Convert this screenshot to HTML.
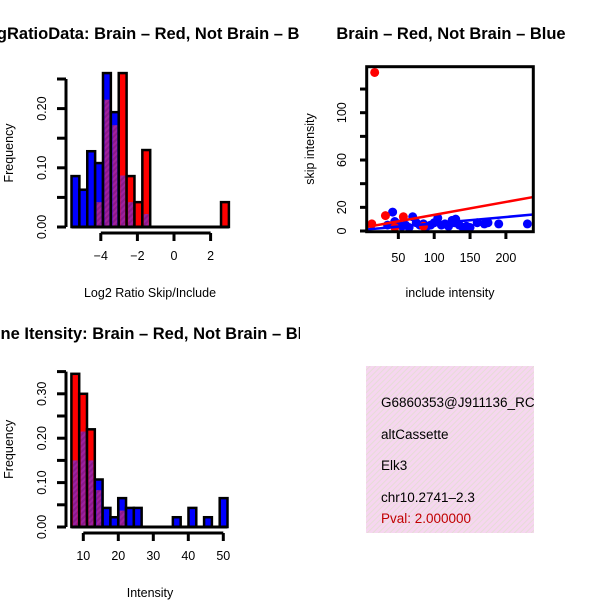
<!DOCTYPE html>
<html><head><meta charset="utf-8"><style>
body{margin:0;background:#fff;width:600px;height:600px;overflow:hidden}
svg{font-family:"Liberation Sans",sans-serif}
</style></head><body>
<svg id="c" width="600" height="600" xmlns="http://www.w3.org/2000/svg">
<defs>
<pattern id="pur" width="4" height="4" patternUnits="userSpaceOnUse" patternTransform="rotate(45)">
<rect width="4" height="4" fill="#a020a0"/><rect width="2" height="4" fill="#8a1a8a"/></pattern>
<pattern id="pink" width="4" height="4" patternUnits="userSpaceOnUse" patternTransform="rotate(45)">
<rect width="4" height="4" fill="#f6d6f0"/><rect width="1" height="4" fill="#e6dcd6"/></pattern>
<clipPath id="clipL"><rect x="0" y="0" width="300" height="600"/></clipPath>
<clipPath id="clipBox"><rect x="366" y="366" width="168" height="167"/></clipPath>
</defs>
<g id="p1" clip-path="url(#clipL)"></g>
<g id="p2"></g>
<g id="p3" clip-path="url(#clipL)"></g>
<g clip-path="url(#clipBox)">
<rect x="366" y="366" width="168" height="167" fill="url(#pink)"/>
<text x="381" y="407" font-size="13.5">G6860353@J911136_RC</text>
<text x="381" y="439" font-size="13.5">altCassette</text>
<text x="381" y="470" font-size="13.5">Elk3</text>
<text x="381" y="502" font-size="13.5">chr10.2741–2.3</text>
<text x="381" y="523" font-size="13.5" fill="#c00000">Pval: 2.000000</text>
</g>
</svg>
<script>
// Panel 1 data
const ratioBinStart = -5.6, ratioBinWidth = 0.43;
const ratioBlue = [0.086,0.063,0.128,0.108,0.26,0.194,0.087,0.042,0,0.022,0,0,0,0,0,0,0,0,0,0];
const ratioRed  = [0,0,0,0.042,0.215,0.172,0.26,0.086,0.042,0.13,0,0,0,0,0,0,0,0,0,0.042];
const ratioXTicks = [-4,-2,0,2];
const ratioYTicks = [0,0.05,0.10,0.15,0.20,0.25];
const ratioYLabels = ["0.00","","0.10","","0.20",""];
// Panel 3 data
const intBinStart = 6.6, intBinWidth = 2.23;
const intBlue = [0.15,0.215,0.15,0.107,0.043,0.022,0.065,0.043,0.043,0,0,0,0,0.022,0,0.043,0,0.022,0,0.065];
const intRed  = [0.345,0.30,0.22,0.083,0,0,0.037,0,0,0,0,0,0,0,0,0,0,0,0,0];
const intXTicks = [10,20,30,40,50];
const intYTicks = [0,0.05,0.10,0.15,0.20,0.25,0.30,0.35];
const intYLabels = ["0.00","","0.10","","0.20","","0.30",""];
// Panel 2 data
const blueX = [35,42,45,50,55,60,70,75,80,85,90,100,105,110,115,120,125,130,135,140,145,150,160,170,175,190,230,65,95,128];
const blueY = [5,16,8,6,4,5,12,7,5,6,4,7,11,5,6,4,9,10,5,3,4,3,7,6,7,6,6,3,5,7];
const redX = [17,13,32,57,45,85];
const redY = [134,6,13,12,3,4];
const redLine = [3.4,28.7], blueLine = [1.3,13.9], lineX = [6,238];
const scXTicks = [50,100,150,200];
const scYTicks = [0,20,40,60,80,100,120];
const scYLabels = ["0","20","","60","","100",""];

const NS="http://www.w3.org/2000/svg";
function mk(parent,tag,attrs,txt){const e=document.createElementNS(NS,tag);for(const k in attrs)e.setAttribute(k,attrs[k]);if(txt!==undefined)e.textContent=txt;parent.appendChild(e);return e;}

function hist(gid,start,w,blue,red,xt,yt,yl,xs,ys,opts){
  const g=document.getElementById(gid);
  mk(g,'text',{x:150,y:opts.titleY,'font-size':16.5,'font-weight':'bold','text-anchor':'middle'},opts.title);
  for(let i=0;i<blue.length;i++){
    const x0=xs(start+i*w),x1=xs(start+(i+1)*w);
    const b=blue[i],r=red[i],top=Math.max(b,r),ov=Math.min(b,r);
    if(top<=0){continue;}
    const r1=mk(g,'rect',{x:x0,y:ys(top),width:x1-x0,height:ys(0)-ys(top),fill:b>=r?'#0000ff':'#ff0000',stroke:'#000','stroke-width':2.5});
    
    
    if(ov>0){const r2=mk(g,'rect',{x:x0+1.5,y:ys(ov),width:x1-x0-3,height:ys(0)-ys(ov)-1.2,fill:'url(#pur)'});
      
      }
  }
  mk(g,'line',{x1:xs(start),x2:xs(start+blue.length*w),y1:ys(0),y2:ys(0),stroke:'#000','stroke-width':3});
  mk(g,'line',{x1:66,x2:66,y1:ys(yt[0]),y2:ys(yt[yt.length-1]),stroke:'#000','stroke-width':3});
  yt.forEach((v,i)=>{mk(g,'line',{x1:57,x2:66,y1:ys(v),y2:ys(v),stroke:'#000','stroke-width':3});
    if(yl[i]){const t=mk(g,'text',{x:46,y:ys(v),'font-size':12.5,'text-anchor':'middle',transform:`rotate(-90 46 ${ys(v)})`},yl[i]);}});
  const ay=opts.axisY;
  mk(g,'line',{x1:xs(xt[0]),x2:xs(xt[xt.length-1]),y1:ay,y2:ay,stroke:'#000','stroke-width':3});
  xt.forEach(v=>{mk(g,'line',{x1:xs(v),x2:xs(v),y1:ay,y2:ay+8,stroke:'#000','stroke-width':3});
    const t=mk(g,'text',{x:xs(v),y:ay+27,'font-size':12.5,'text-anchor':'middle'},String(v).replace('-','−'));});
  const yc=(ys(yt[0])+ys(yt[yt.length-1]))/2;
  const yt2=mk(g,'text',{x:13,y:yc,'font-size':12.5,'text-anchor':'middle',transform:`rotate(-90 13 ${yc})`},'Frequency');
  
  const xt2=mk(g,'text',{x:150,y:opts.xlabY,'font-size':12.5,'text-anchor':'middle'},opts.xlab);
  
}
hist('p1',ratioBinStart,ratioBinWidth,ratioBlue,ratioRed,ratioXTicks,ratioYTicks,ratioYLabels,
  v=>174+v*18.3, v=>227-v*592,
  {title:'LogRatioData: Brain – Red, Not Brain – Blue',titleY:39,axisY:233,xlab:'Log2 Ratio Skip/Include',xlabY:297});
hist('p3',intBinStart,intBinWidth,intBlue,intRed,intXTicks,intYTicks,intYLabels,
  v=>83.3+(v-10)*3.5, v=>527-v*444,
  {title:'Gene Itensity: Brain – Red, Not Brain – Blue',titleY:339,axisY:533,xlab:'Intensity',xlabY:597});

(function(){
  const g=document.getElementById('p2');
  const xs=v=>362.5+v*0.717, ys=v=>231-v*1.183;
  mk(g,'text',{x:451,y:39,'font-size':16.5,'font-weight':'bold','text-anchor':'middle'},'Brain – Red, Not Brain – Blue');
  for(let i=0;i<blueX.length;i++){const c=mk(g,'circle',{cx:xs(blueX[i]),cy:ys(blueY[i]),r:4.5,fill:'#0000ff'});
    
    }
  for(let i=0;i<redX.length;i++){const c=mk(g,'circle',{cx:xs(redX[i]),cy:ys(redY[i]),r:4.5,fill:'#ff0000'});
    
    }
  const l1=mk(g,'line',{x1:xs(lineX[0]),x2:xs(lineX[1]),y1:ys(redLine[0]),y2:ys(redLine[1]),stroke:'#ff0000','stroke-width':2.5});
  
  const l2=mk(g,'line',{x1:xs(lineX[0]),x2:xs(lineX[1]),y1:ys(blueLine[0]),y2:ys(blueLine[1]),stroke:'#0000ff','stroke-width':2.5});
  
  mk(g,'rect',{x:366.7,y:66.7,width:166.6,height:165,fill:'none',stroke:'#000','stroke-width':3});
  scXTicks.forEach(v=>{mk(g,'line',{x1:xs(v),x2:xs(v),y1:232,y2:239,stroke:'#000','stroke-width':3});
    mk(g,'text',{x:xs(v),y:262,'font-size':12.5,'text-anchor':'middle'},String(v));});
  scYTicks.forEach((v,i)=>{mk(g,'line',{x1:360,x2:366.7,y1:ys(v),y2:ys(v),stroke:'#000','stroke-width':3});
    if(scYLabels[i]){mk(g,'text',{x:346,y:ys(v),'font-size':12.5,'text-anchor':'middle',transform:`rotate(-90 346 ${ys(v)})`},scYLabels[i]);}});
  mk(g,'text',{x:314,y:149,'font-size':12.5,'text-anchor':'middle',transform:'rotate(-90 314 149)'},'skip intensity');
  mk(g,'text',{x:450,y:297,'font-size':12.5,'text-anchor':'middle'},'include intensity');
})();
</script>
</body></html>
